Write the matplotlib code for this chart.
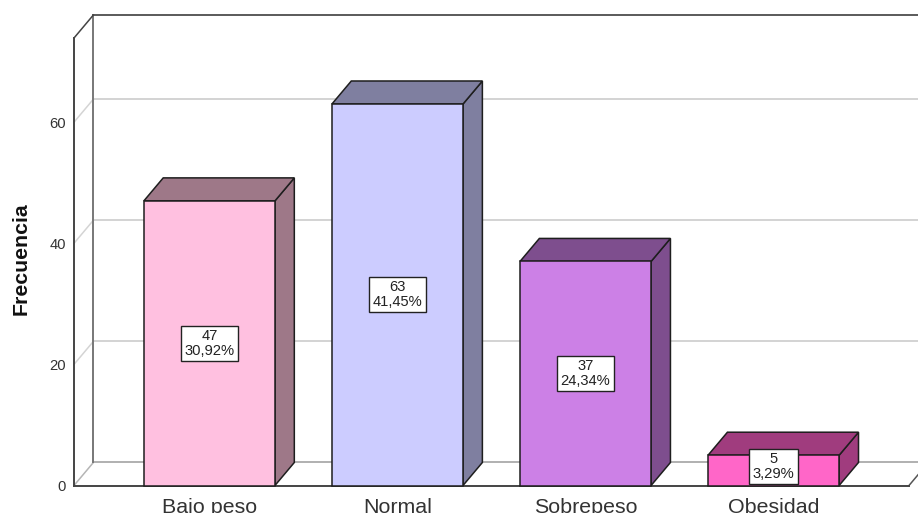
import matplotlib
matplotlib.use('Agg')
import matplotlib.pyplot as plt

plt.rcParams['font.family'] = ['Liberation Sans', 'DejaVu Sans']

categorias = ['Bajo peso', 'Normal', 'Sobrepeso', 'Obesidad']
frecuencias = [47, 63, 37, 5]
porcentajes = ['30,92%', '41,45%', '24,34%', '3,29%']
marcas_y = [0, 20, 40, 60]

colores_frente = ['#FFC0E0', '#CCCCFF', '#CC80E6', '#FF66C8']
colores_lado = ['#9E7888', '#7F7FA0', '#7E4E8E', '#A03C7E']
colores_arriba = ['#9E7888', '#7F7FA0', '#7E4E8E', '#A03C7E']

ANCHO_FIG, ALTO_FIG = 918, 513
ancho_barra = 0.697
# profundidad del efecto 3D en unidades de datos
prof_x = 0.103
prof_y = 3.8
y_max = 73.9
x_min, x_max = -0.72, 3.72

fig = plt.figure(figsize=(ANCHO_FIG / 100, ALTO_FIG / 100), dpi=100)
ax = fig.add_axes([74 / ANCHO_FIG, 1 - 485.5 / ALTO_FIG, 835 / ANCHO_FIG, 447.5 / ALTO_FIG])
ax.set_xlim(x_min, x_max)
ax.set_ylim(0, y_max)
for lado in ax.spines.values():
    lado.set_visible(False)
ax.patch.set_visible(False)

# lineas de la grilla en la pared del fondo y la pared izquierda
for m in marcas_y[1:]:
    ax.plot([x_min, x_min + prof_x], [m, m + prof_y], color='#D4D4D4', lw=1.1, clip_on=False, zorder=1)
    ax.plot([x_min + prof_x, x_max + prof_x], [m + prof_y, m + prof_y], color='#D0D0D0', lw=1.3, clip_on=False, zorder=1)

# piso
ax.plot([x_min, x_min + prof_x], [0, prof_y], color='#B5B5B5', lw=1.1, clip_on=False, zorder=1)
ax.plot([x_min + prof_x, x_max + prof_x], [prof_y, prof_y], color='#B0B0B0', lw=1.4, clip_on=False, zorder=1)
ax.plot([x_max, x_max + prof_x], [0, prof_y], color='#555555', lw=1.1, clip_on=False, zorder=2)

# marco de la pared
ax.plot([x_min + prof_x, x_min + prof_x], [prof_y, y_max + prof_y], color='#777777', lw=1.4, clip_on=False, zorder=2)
ax.plot([x_min + prof_x, x_max + prof_x], [y_max + prof_y, y_max + prof_y], color='#5A5A5A', lw=1.4, clip_on=False, zorder=2)
ax.plot([x_min, x_min + prof_x], [y_max, y_max + prof_y], color='#444444', lw=1.1, clip_on=False, zorder=2)
ax.plot([x_min, x_min], [0, y_max], color='#444444', lw=1.4, clip_on=False, zorder=2)
ax.plot([x_min, x_max], [0, 0], color='#444444', lw=1.4, clip_on=False, zorder=2)

# barras con cara lateral y superior
for i, valor in enumerate(frecuencias):
    x0 = i - ancho_barra / 2
    x1 = i + ancho_barra / 2
    ax.fill([x1, x1 + prof_x, x1 + prof_x, x1], [0, prof_y, valor + prof_y, valor],
            facecolor=colores_lado[i], edgecolor='#1E1E1E', lw=1.1, clip_on=False, zorder=3)
    ax.fill([x0, x0 + prof_x, x1 + prof_x, x1], [valor, valor + prof_y, valor + prof_y, valor],
            facecolor=colores_arriba[i], edgecolor='#1E1E1E', lw=1.1, clip_on=False, zorder=3)
ax.bar(range(len(categorias)), frecuencias, width=ancho_barra, color=colores_frente,
       edgecolor='#1E1E1E', linewidth=1.1, zorder=4, clip_on=False)

# etiquetas con frecuencia y porcentaje
for i, valor in enumerate(frecuencias):
    y_texto = max(valor / 2, 3.1)
    ax.text(i, y_texto, f'{valor}\n{porcentajes[i]}', ha='center', va='center', fontsize=10.6,
            color='#222222', linespacing=1.08, zorder=6,
            bbox=dict(boxstyle='square,pad=0.22', facecolor='white', edgecolor='#222222', linewidth=1))

ax.set_xticks(range(len(categorias)))
ax.set_xticklabels(categorias, fontsize=15.4, color='#333333')
ax.set_yticks(marcas_y)
ax.set_yticklabels([str(m) for m in marcas_y], fontsize=10.6, color='#333333')
ax.tick_params(axis='x', length=0, pad=9)
ax.tick_params(axis='y', length=0, pad=6)
ax.set_ylabel('Frecuencia', fontsize=15.3, fontweight='bold', color='#111111')
ax.yaxis.set_label_coords(-43 / 835, 0.507)

fig.savefig('out.png', dpi=100, facecolor='white')
